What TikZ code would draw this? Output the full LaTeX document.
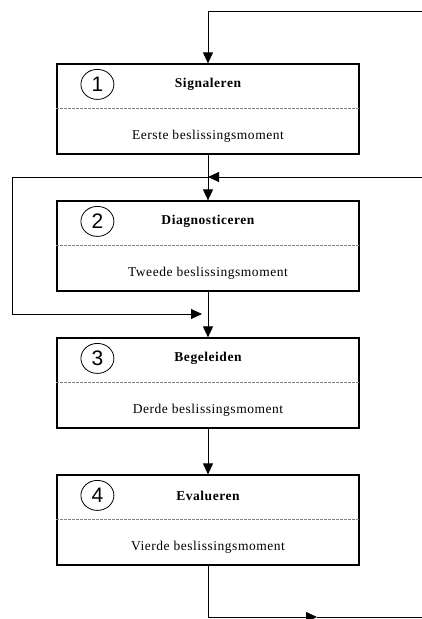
\documentclass[tikz,border=0pt]{standalone}
\usepackage{fontspec}
\newfontfamily\boxfont{Liberation Serif}[LetterSpace=4]
\newfontfamily\numfont{Liberation Sans}
\usepackage{tikz}
\usetikzlibrary{arrows.meta, calc, positioning, shapes.geometric}
\tikzset{
    stage/.style={draw, line width=1.2pt, minimum width=302pt, minimum height=90pt, inner sep=0pt},
    stagenum/.style={ellipse, draw, line width=0.8pt, minimum width=33pt, minimum height=30pt, inner sep=0pt, font=\numfont\fontsize{21}{21}\selectfont},
    stagetitle/.style={font=\boxfont\bfseries\fontsize{13.5}{15}\selectfont},
    stagesub/.style={font=\boxfont\fontsize{13.5}{15}\selectfont},
    split/.style={line width=0.5pt, gray, dash pattern=on 3pt off 1pt},
    link/.style={line width=0.9pt},
    flow/.style={link, -{Triangle[length=11pt, width=10pt]}}
}
\begin{document}
\begin{tikzpicture}[x=1pt, y=-1pt]
    \useasboundingbox (0,0) rectangle (422,619);

    % ---------------- stages ----------------
    \foreach \i/\y/\name/\moment in {1/109/Signaleren/Eerste, 2/246/Diagnosticeren/Tweede,
                                     3/383/Begeleiden/Derde, 4/520/Evalueren/Vierde} {
        \node[stage] (b\i) at (208,\y) {};
        \draw[split] ($(b\i.west)+(0,-1)$) -- ($(b\i.east)+(0,-1)$);
        \node[stagenum] (n\i) at ($(b\i.north west)+(41,21)$) {\i};
        \node[stagetitle] (t\i) at ($(b\i.north)+(0,21)$) {\name};
        \node[stagesub] (s\i) at ($(b\i.south)+(0,-18)$) {\moment{} beslissingsmoment};
    }

    % ---------------- loops ----------------
    \coordinate (topright) at (422,11);
    \coordinate (midright) at (422,177);
    \coordinate (join) at (b1.south |- midright);
    \coordinate (loopleft) at (12,177);
    \coordinate (loopend) at (202,314);
    \coordinate (outmid) at (317,617);
    \coordinate (outright) at (422,617);

    \draw[flow] (topright) -| (b1.north);
    \draw[flow] (b1) -- (b2);
    \draw[flow] (midright) -- (join);
    \draw[flow] (join) -- (loopleft) |- (loopend);
    \draw[flow] (b2) -- (b3);
    \draw[flow] (b3) -- (b4);
    \draw[flow] (b4.south) |- (outmid);
    \draw[link] (outmid) -- (outright);
\end{tikzpicture}
\end{document}
